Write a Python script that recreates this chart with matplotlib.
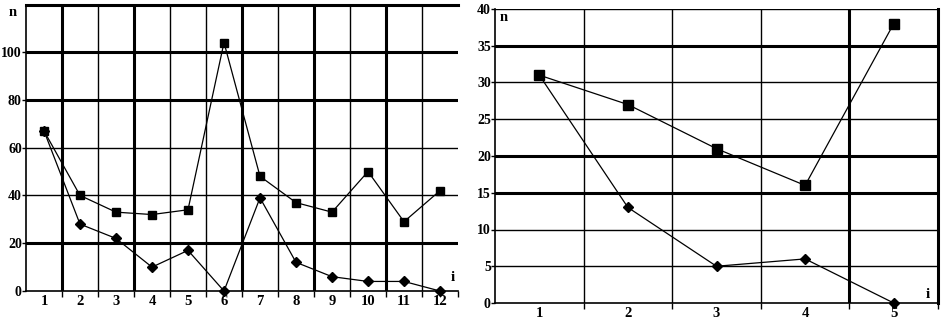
import numpy as np
import matplotlib.pyplot as plt

plt.rcParams['font.family'] = ['Liberation Serif', 'DejaVu Serif']
plt.rcParams['font.weight'] = 'bold'

# left chart: 12 groups
left_i = np.arange(1, 13)
left_sq = [67, 40, 33, 32, 34, 104, 48, 37, 33, 50, 29, 42]
left_dm = [67, 28, 22, 10, 17, 0, 39, 12, 6, 4, 4, 0]
left_yticks = [0, 20, 40, 60, 80, 100]

# right chart: 5 groups
right_i = np.arange(1, 6)
right_sq = [31, 27, 21, 16, 38]
right_dm = [31, 13, 5, 6, 0]
right_yticks = [0, 5, 10, 15, 20, 25, 30, 35, 40]

fig = plt.figure(figsize=(9.43, 3.19), dpi=100)
ax1 = fig.add_axes([26 / 943, 28 / 319, 432 / 943, 286 / 319])
ax2 = fig.add_axes([495 / 943, 16 / 319, 443 / 943, 294 / 319])


def style(ax, x, yticks, ymax, thick_v, thick_h):
    n = len(x)
    ax.set_xlim(0.5, n + 0.5)
    ax.set_ylim(0, ymax)
    bounds = np.arange(1.5, n + 0.5)
    for b in bounds:
        ax.axvline(b, color='black', lw=2.2 if b in thick_v else 1.0, zorder=1)
    for t in yticks[1:]:
        ax.axhline(t, color='black', lw=2.2 if t in thick_h else 1.0, zorder=1)
    for s in ['top', 'right']:
        ax.spines[s].set_visible(False)
    ax.spines['left'].set_linewidth(1.2)
    ax.spines['bottom'].set_linewidth(1.2)
    ax.set_xticks(x)
    ax.set_xticklabels([str(v) for v in x], fontsize=10.5, fontweight='bold')
    ax.set_xticks(np.append(bounds, n + 0.5), minor=True)
    ax.tick_params(axis='x', which='major', length=0, pad=3)
    ax.tick_params(axis='x', which='minor', length=4, direction='out', width=1)
    ax.set_yticks(yticks)
    ax.set_yticklabels([str(v) for v in yticks], fontsize=10, fontweight='bold')
    ax.tick_params(axis='y', length=3, width=1, pad=0)


style(ax1, left_i, left_yticks, 119.7, [1.5, 3.5, 6.5, 8.5, 10.5], [20, 80, 100])
ax1.axhline(119.7, color='black', lw=2.2, clip_on=False)
ax1.plot(left_i, left_sq, color='black', lw=0.9, marker='s', ms=6, zorder=3, clip_on=False)
ax1.plot(left_i, left_dm, color='black', lw=0.9, marker='D', ms=5, zorder=3, clip_on=False)
ax1.text(-0.03, 116.5, 'n', fontsize=10.5, fontweight='bold', ha='center', va='center',
         transform=ax1.get_yaxis_transform())
ax1.text(12.35, 5.5, 'i', fontsize=11, fontweight='bold', ha='center', va='center')

style(ax2, right_i, right_yticks, 40, [4.5], [15, 20, 35])
ax2.spines['right'].set_visible(True)
ax2.spines['right'].set_linewidth(2.2)
ax2.plot(right_i, right_sq, color='black', lw=0.9, marker='s', ms=6.5, zorder=3, clip_on=False)
ax2.plot(right_i, right_dm, color='black', lw=0.9, marker='D', ms=5, zorder=3, clip_on=False)
ax2.text(0.6, 38.8, 'n', fontsize=10.5, fontweight='bold', ha='center', va='center')
ax2.text(5.38, 1.2, 'i', fontsize=11, fontweight='bold', ha='center', va='center')

fig.savefig('out.png', dpi=100)
